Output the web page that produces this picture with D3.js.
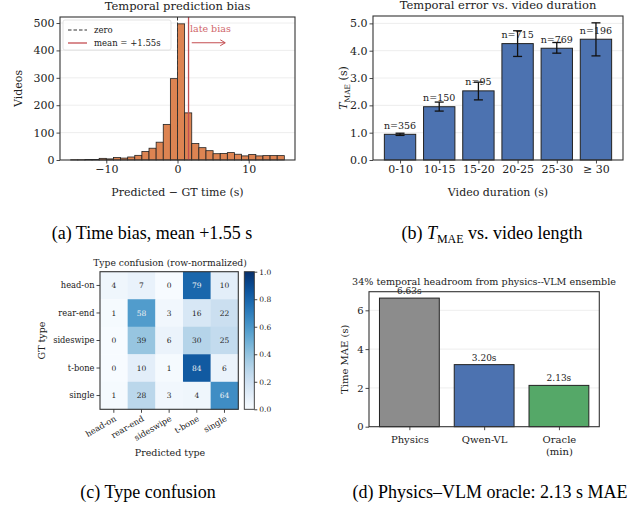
<!DOCTYPE html>
<html>
<head>
<meta charset="utf-8">
<script src="https://cdn.jsdelivr.net/npm/d3@7"></script>
<style>
  body { margin: 0; background: #fff; }
  text { font-family: "DejaVu Serif", serif; }
  .cap { font-family: "Liberation Serif", "Times New Roman", serif; }
</style>
</head>
<body>
<svg id="fig" width="636" height="506"></svg>
<script>
// (a) histogram of predicted - GT time
const binLo = [-15, -14, -13, -12, -11, -10, -9, -8, -7, -6, -5, -4, -3, -2, -1,
               0, 1, 2, 3, 4, 5, 6, 7, 8, 9, 10, 11, 12, 13, 14];
const biasCounts = [1, 1, 2, 2, 6, 4, 9, 7, 11, 17, 31, 43, 65, 130, 297,
                    497, 172, 60, 45, 34, 23, 24, 27, 21, 15, 20, 15, 16, 16, 16];
const biasMean = 1.55;
const biasTicksX = [-10, 0, 10];
const biasTicksY = [0, 100, 200, 300, 400, 500];

// (b) MAE by video duration
const durCats = ['0-10', '10-15', '15-20', '20-25', '25-30', '≥ 30'];
const durMae = [0.94, 1.95, 2.53, 4.26, 4.09, 4.42];
const durLo = [0.90, 1.79, 2.20, 3.79, 3.91, 3.81];
const durHi = [0.98, 2.12, 2.85, 4.73, 4.30, 5.02];
const durN = [356, 150, 95, 715, 769, 196];
const durTicksY = [0, 1, 2, 3, 4, 5];

// (c) confusion matrix (row-normalized, %)
const types = ['head-on', 'rear-end', 'sideswipe', 't-bone', 'single'];
const confusion = [
  [4, 7, 0, 79, 10],
  [1, 58, 3, 16, 22],
  [0, 39, 6, 30, 25],
  [0, 10, 1, 84, 6],
  [1, 28, 3, 4, 64],
];
const cbarTicks = [0, 0.2, 0.4, 0.6, 0.8, 1.0];

// (d) physics vs VLM vs oracle
const methods = ['Physics', 'Qwen-VL', 'Oracle|(min)'];
const methodMae = [6.63, 3.20, 2.13];
const methodColors = ['#8c8c8c', '#4c72b0', '#55a868'];
const methodTicksY = [0, 2, 4, 6];

const svg = d3.select('#fig');
svg.append('rect').attr('width', 636).attr('height', 506).attr('fill', '#fff');

const ink = '#222';
const spine = '#333';
const gridCol = '#ebebeb';
const red = '#c44e52';

const styleAxis = function(g, fs) {
  g.attr('font-family', null);
  g.select('.domain').remove();
  g.selectAll('.tick line').attr('stroke', spine).attr('stroke-width', 0.9);
  g.selectAll('.tick text').style('font-size', fs + 'px').style('fill', ink);
}

const frame = function(g, x0, y0, x1, y1) {
  g.append('rect')
    .attr('x', x0).attr('y', y0)
    .attr('width', x1 - x0).attr('height', y1 - y0)
    .attr('fill', 'none').attr('stroke', spine).attr('stroke-width', 1.1);
}

const hgrid = function(g, ticks, y, x0, x1) {
  g.selectAll(null).data(ticks.filter(t => t > 0)).enter().append('line')
    .attr('x1', x0).attr('x2', x1)
    .attr('y1', d => y(d)).attr('y2', d => y(d))
    .attr('stroke', gridCol).attr('stroke-width', 0.9);
}

const label = function(g, x, y, s, fs, anchor) {
  return g.append('text').attr('x', x).attr('y', y)
    .attr('text-anchor', anchor || 'middle')
    .style('font-size', fs + 'px').style('fill', ink).text(s);
}

// ---------- (a) ----------
{
  const g = svg.append('g');
  const L = 60, R = 295, T = 17, B = 160;
  const x = d3.scaleLinear().domain([-16.5, 16.5]).range([L, R]);
  const y = d3.scaleLinear().domain([0, 522]).range([B, T]);

  hgrid(g, biasTicksY, y, L, R);

  g.selectAll('.bin').data(biasCounts).enter().append('rect')
    .attr('x', (d, i) => x(binLo[i]))
    .attr('width', (d, i) => x(binLo[i] + 1) - x(binLo[i]))
    .attr('y', d => y(d))
    .attr('height', d => y(0) - y(d))
    .attr('fill', '#dd8452').attr('stroke', ink).attr('stroke-width', 0.8);

  g.append('line').attr('x1', x(0)).attr('x2', x(0)).attr('y1', T).attr('y2', B)
    .attr('stroke', '#333').attr('stroke-width', 1).attr('stroke-dasharray', '3.5,2');
  g.append('line').attr('x1', x(biasMean)).attr('x2', x(biasMean)).attr('y1', T).attr('y2', B)
    .attr('stroke', red).attr('stroke-width', 1.3);

  // late bias annotation
  label(g, x(1.75), y(468), 'late bias', 9.5, 'start').style('fill', '#d0676b');
  const ay = y(428), ax0 = x(2.0), ax1 = x(6.7);
  g.append('line').attr('x1', ax0).attr('x2', ax1).attr('y1', ay).attr('y2', ay)
    .attr('stroke', red).attr('stroke-width', 1);
  g.append('path').attr('d', `M${ax1 - 5},${ay - 3}L${ax1},${ay}L${ax1 - 5},${ay + 3}`)
    .attr('fill', 'none').attr('stroke', red).attr('stroke-width', 1);

  // legend
  const lg = g.append('g');
  lg.append('rect').attr('x', 63).attr('y', 20).attr('width', 108).attr('height', 30).attr('rx', 2)
    .attr('fill', '#fff').attr('fill-opacity', 0.8).attr('stroke', '#dcdcdc').attr('stroke-width', 0.8);
  lg.append('line').attr('x1', 68).attr('x2', 87).attr('y1', 30).attr('y2', 30)
    .attr('stroke', '#333').attr('stroke-width', 1).attr('stroke-dasharray', '3.5,2');
  lg.append('line').attr('x1', 68).attr('x2', 87).attr('y1', 43).attr('y2', 43)
    .attr('stroke', red).attr('stroke-width', 1.3);
  label(lg, 94, 33, 'zero', 8.5, 'start');
  label(lg, 94, 46, 'mean = +1.55s', 8.5, 'start');

  frame(g, L, T, R, B);

  g.append('g').attr('transform', `translate(0,${B})`)
    .call(d3.axisBottom(x).tickValues(biasTicksX).tickSize(3.5).tickPadding(2))
    .call(a => styleAxis(a, 11));
  g.append('g').attr('transform', `translate(${L},0)`)
    .call(d3.axisLeft(y).tickValues(biasTicksY).tickSize(3.5).tickPadding(2))
    .call(a => styleAxis(a, 11));

  label(g, (L + R) / 2, 10, 'Temporal prediction bias', 11.5);
  label(g, (L + R) / 2, 196, 'Predicted − GT time (s)', 11);
  label(g, 0, 0, 'Videos', 11).attr('transform', `translate(22,${(T + B) / 2}) rotate(-90)`);
}

// ---------- (b) ----------
{
  const g = svg.append('g');
  const L = 373, R = 623, T = 16, B = 160;
  const x = d3.scaleLinear().domain([-0.69, 5.69]).range([L, R]);
  const y = d3.scaleLinear().domain([0, 5.27]).range([B, T]);
  const bw = x(0.8) - x(0);

  hgrid(g, durTicksY, y, L, R);

  g.selectAll('.bar').data(durMae).enter().append('rect')
    .attr('x', (d, i) => x(i) - bw / 2).attr('width', bw)
    .attr('y', d => y(d)).attr('height', d => y(0) - y(d))
    .attr('fill', '#4c72b0').attr('stroke', ink).attr('stroke-width', 1);

  g.selectAll('.nlab').data(durN).enter().append('text')
    .attr('x', (d, i) => x(i)).attr('y', (d, i) => y(durMae[i] + 0.2))
    .attr('text-anchor', 'middle').text(d => 'n=' + d)
    .style('font-size', '9.5px').style('fill', ink);

  const eb = g.selectAll('.err').data(durMae).enter().append('g');
  eb.append('line').attr('x1', (d, i) => x(i)).attr('x2', (d, i) => x(i))
    .attr('y1', (d, i) => y(durLo[i])).attr('y2', (d, i) => y(durHi[i]));
  eb.append('line').attr('x1', (d, i) => x(i) - 4.5).attr('x2', (d, i) => x(i) + 4.5)
    .attr('y1', (d, i) => y(durLo[i])).attr('y2', (d, i) => y(durLo[i]));
  eb.append('line').attr('x1', (d, i) => x(i) - 4.5).attr('x2', (d, i) => x(i) + 4.5)
    .attr('y1', (d, i) => y(durHi[i])).attr('y2', (d, i) => y(durHi[i]));
  eb.selectAll('line').attr('stroke', '#111').attr('stroke-width', 1.3);

  frame(g, L, T, R, B);

  g.append('g').attr('transform', `translate(0,${B})`)
    .call(d3.axisBottom(x).tickValues(d3.range(durCats.length)).tickFormat(i => durCats[i])
      .tickSize(3.5).tickPadding(2))
    .call(a => styleAxis(a, 11));
  g.append('g').attr('transform', `translate(${L},0)`)
    .call(d3.axisLeft(y).tickValues(durTicksY).tickSize(3.5).tickPadding(2))
    .call(a => styleAxis(a, 11));

  label(g, (L + R) / 2, 9, 'Temporal error vs. video duration', 11.5);
  label(g, (L + R) / 2, 196, 'Video duration (s)', 11);
  const yl = g.append('text').attr('transform', `translate(347,${(T + B) / 2}) rotate(-90)`)
    .attr('text-anchor', 'middle').style('font-size', '11px').style('fill', ink);
  yl.append('tspan').text('T').style('font-style', 'italic');
  yl.append('tspan').text('MAE').style('font-size', '7.5px').attr('dy', 2.5);
  yl.append('tspan').text(' (s)').attr('dy', -2.5);
}

// ---------- (c) ----------
{
  const g = svg.append('g');
  const L = 100, R = 238.3, T = 271.7, B = 409.3;
  const x = d3.scaleBand().domain(types).range([L, R]);
  const y = d3.scaleBand().domain(types).range([T, B]);
  const col = d3.scaleSequential(d3.interpolateBlues).domain([0, 1]);

  const cells = [];
  confusion.forEach((row, r) => row.forEach((v, c) => cells.push({ r: types[r], c: types[c], v })));

  g.selectAll('.cell').data(cells).enter().append('rect')
    .attr('x', d => x(d.c)).attr('y', d => y(d.r))
    .attr('width', x.bandwidth() + 0.3).attr('height', y.bandwidth() + 0.3)
    .attr('fill', d => col(d.v / 100));
  g.selectAll('.ann').data(cells).enter().append('text')
    .attr('x', d => x(d.c) + x.bandwidth() / 2).attr('y', d => y(d.r) + y.bandwidth() / 2 + 2.6)
    .attr('text-anchor', 'middle').text(d => d.v)
    .style('font-size', '7.5px').style('fill', d => d.v > 50 ? '#f2f2f2' : '#262626');

  frame(g, L, T, R, B);

  g.append('g').attr('transform', `translate(${L},0)`)
    .call(d3.axisLeft(y).tickSize(3.5).tickPadding(2))
    .call(a => styleAxis(a, 8.3));
  const xa = g.append('g').attr('transform', `translate(0,${B})`)
    .call(d3.axisBottom(x).tickSize(3.5).tickPadding(2))
    .call(a => styleAxis(a, 8.3));
  xa.selectAll('.tick text')
    .attr('y', 0).attr('dy', 0)
    .attr('transform', 'translate(3,11) rotate(-30)')
    .style('text-anchor', 'end');

  // colorbar
  const cx0 = 244.3, cx1 = 254.3;
  const grad = svg.append('defs').append('linearGradient').attr('id', 'blues')
    .attr('x1', 0).attr('x2', 0).attr('y1', 1).attr('y2', 0);
  grad.selectAll('stop').data(d3.range(0, 1.0001, 0.05)).enter().append('stop')
    .attr('offset', d => d).attr('stop-color', d => col(d));
  g.append('rect').attr('x', cx0).attr('y', T).attr('width', cx1 - cx0).attr('height', B - T)
    .attr('fill', 'url(#blues)').attr('stroke', spine).attr('stroke-width', 0.9);
  const cy = d3.scaleLinear().domain([0, 1]).range([B, T]);
  g.append('g').attr('transform', `translate(${cx1},0)`)
    .call(d3.axisRight(cy).tickValues(cbarTicks).tickFormat(d3.format('.1f')).tickSize(3).tickPadding(2))
    .call(a => styleAxis(a, 7.5));

  label(g, 170, 265.5, 'Type confusion (row-normalized)', 9.2);
  label(g, 170, 456, 'Predicted type', 9.5);
  label(g, 0, 0, 'GT type', 9.5).attr('transform', `translate(45,${(T + B) / 2}) rotate(-90)`);
}

// ---------- (d) ----------
{
  const g = svg.append('g');
  const L = 369, R = 599.3, T = 291.7, B = 426.7;
  const x = d3.scaleLinear().domain([-0.54, 2.54]).range([L, R]);
  const y = d3.scaleLinear().domain([0, 6.96]).range([B, T]);
  const bw = x(0.8) - x(0);

  hgrid(g, methodTicksY, y, L, R);

  g.selectAll('.bar').data(methodMae).enter().append('rect')
    .attr('x', (d, i) => x(i) - bw / 2).attr('width', bw)
    .attr('y', d => y(d)).attr('height', d => y(0) - y(d))
    .attr('fill', (d, i) => methodColors[i]).attr('stroke', ink).attr('stroke-width', 1);

  g.selectAll('.vlab').data(methodMae).enter().append('text')
    .attr('x', (d, i) => x(i)).attr('y', d => y(d) - 4)
    .attr('text-anchor', 'middle').text(d => d.toFixed(2) + 's')
    .style('font-size', '9px').style('fill', ink);

  frame(g, L, T, R, B);

  const xa = g.append('g').attr('transform', `translate(0,${B})`)
    .call(d3.axisBottom(x).tickValues(d3.range(methods.length)).tickFormat('').tickSize(3.5))
    .call(a => styleAxis(a, 10));
  xa.selectAll('.tick').each(function(i) {
    const t = d3.select(this).append('text').attr('text-anchor', 'middle')
      .style('font-size', '10px').style('fill', ink);
    methods[i].split('|').forEach((s, k) => {
      t.append('tspan').attr('x', 0).attr('y', 16 + k * 12).text(s);
    });
  });
  g.append('g').attr('transform', `translate(${L},0)`)
    .call(d3.axisLeft(y).tickValues(methodTicksY).tickFormat(d3.format('d')).tickSize(3.5).tickPadding(2))
    .call(a => styleAxis(a, 10));

  label(g, 484, 285, '34% temporal headroom from physics--VLM ensemble', 9.6);
  label(g, 0, 0, 'Time MAE (s)', 10).attr('transform', `translate(348,${(T + B) / 2}) rotate(-90)`);
}

// ---------- captions ----------
const cap = function(x, y, parts) {
  const t = svg.append('text').attr('class', 'cap').attr('x', x).attr('y', y)
    .attr('text-anchor', 'middle').style('font-size', '18px').style('fill', '#000');
  parts.forEach(p => {
    const s = t.append('tspan').text(p.t);
    if (p.it) s.style('font-style', 'italic');
    if (p.sub) s.style('font-size', '12px').attr('dy', 3.5);
    if (p.up) s.attr('dy', -3.5);
  });
}
cap(152, 239, [{ t: '(a) Time bias, mean +1.55 s' }]);
cap(492, 239, [{ t: '(b) ' }, { t: 'T', it: true }, { t: 'MAE', sub: true }, { t: ' vs. video length', up: true }]);
cap(148, 498, [{ t: '(c) Type confusion' }]);
cap(490, 498, [{ t: '(d) Physics–VLM oracle: 2.13 s MAE' }]);
</script>
</body>
</html>
